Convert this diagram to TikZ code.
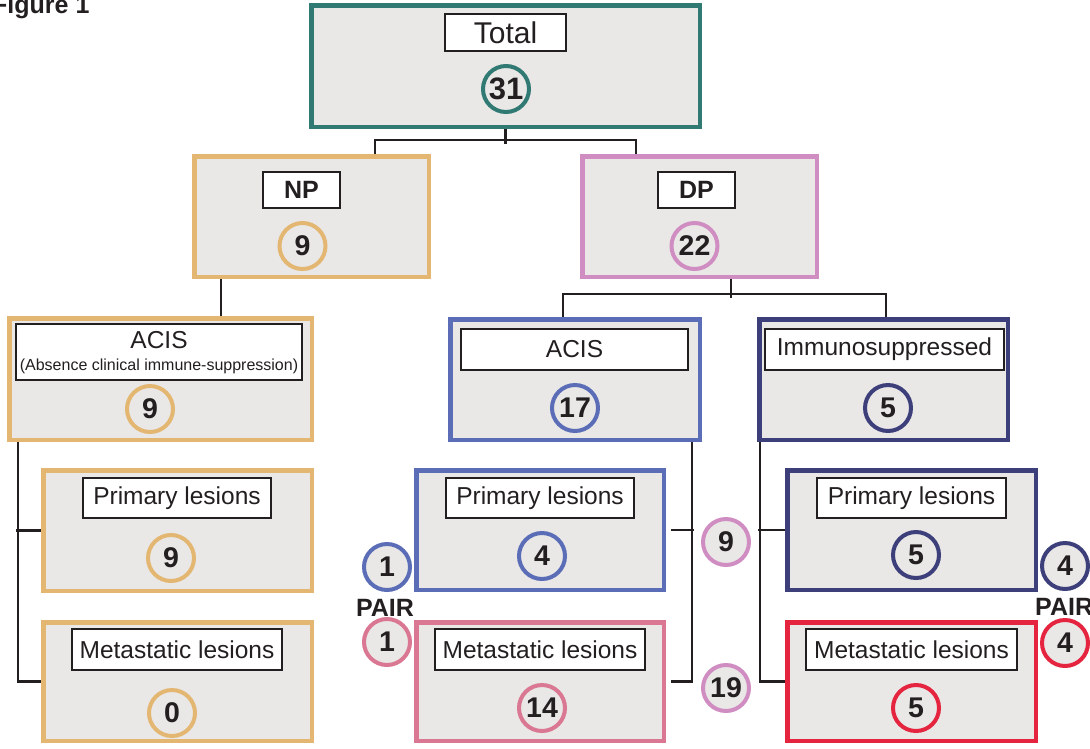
\documentclass[tikz,border=0pt]{standalone}
\usepackage{fontspec}
\setmainfont{Liberation Sans}
\usetikzlibrary{calc,backgrounds}
\definecolor{cTeal}{HTML}{317A73}
\definecolor{cTan}{HTML}{E3B772}
\definecolor{cMauve}{HTML}{D08DC2}
\definecolor{cBlue}{HTML}{5A6DB6}
\definecolor{cNavy}{HTML}{3C3F7A}
\definecolor{cPink}{HTML}{DA7792}
\definecolor{cRed}{HTML}{E5243F}
\definecolor{boxgray}{HTML}{E9E8E7}
\definecolor{linedark}{HTML}{231F20}
\newcommand{\myfs}[1]{\fontsize{#1}{#1}\selectfont}
\tikzset{
  box/.style={draw=#1, line width=4.5pt, fill=boxgray, inner sep=0pt, rectangle},
  lab/.style={draw=linedark, fill=white, line width=1.8pt, inner sep=0pt, rectangle, text=linedark, font=\myfs{24.5}},
  num/.style={circle, draw=#1, line width=4pt, fill=boxgray, minimum size=46pt, inner sep=0pt, text=linedark, font=\bfseries\myfs{28.5}},
  conn/.style={draw=linedark, line width=2.5pt},
  plain/.style={text=linedark, inner sep=0pt}
}
\begin{document}
\begin{tikzpicture}[x=1pt,y=-1pt]
\useasboundingbox (0,0) rectangle (1090,748);

\node[plain, font=\bfseries\myfs{25}, anchor=base west] (fig) at (-8,13) {Figure 1};

% main boxes
\node[box=cTeal,  minimum width=388.5pt, minimum height=121.5pt] (total) at (505.5,66) {};
\node[box=cTan,   minimum width=234.5pt, minimum height=120.5pt] (np) at (311.5,216.5) {};
\node[box=cMauve, minimum width=234.5pt, minimum height=120.5pt] (dp) at (699.5,216.5) {};
\node[box=cTan,   minimum width=302.5pt, minimum height=121.5pt] (acisL) at (160.5,379) {};
\node[box=cBlue,  minimum width=249.5pt, minimum height=120.5pt] (acisM) at (575,379.5) {};
\node[box=cNavy,  minimum width=248.5pt, minimum height=120.5pt] (immuno) at (883.5,379.5) {};
\node[box=cTan,   minimum width=268.5pt, minimum height=120.5pt] (primL) at (177.5,530.5) {};
\node[box=cTan,   minimum width=268.5pt, minimum height=118.5pt] (metL) at (177.5,681.5) {};
\node[box=cBlue,  minimum width=247.5pt, minimum height=119.5pt] (primM) at (540,530) {};
\node[box=cPink,  minimum width=247.5pt, minimum height=118.5pt] (metM) at (540,681.5) {};
\node[box=cNavy,  minimum width=248.5pt, minimum height=119.5pt] (primR) at (911.5,530) {};
\node[box=cRed,   minimum width=248.5pt, minimum height=118.5pt] (metR) at (911.5,681.5) {};

% labels
\node[lab, minimum width=121pt, minimum height=37pt, font=\myfs{30}] (totalL) at (505.5,32.5) {Total};
\node[lab, minimum width=77pt, minimum height=36pt, font=\bfseries\myfs{25}] (npL) at (301.5,190) {NP};
\node[lab, minimum width=77pt, minimum height=36pt, font=\bfseries\myfs{25}] (dpL) at (696.5,190) {DP};
\node[lab, minimum width=286pt, minimum height=56pt] (acisLL) at (159,352) {};
\node[plain, font=\myfs{24.5}] (acisLt) at (159,340) {ACIS};
\node[plain, font=\myfs{16}] (acisLs) at (159,366) {(Absence clinical immune-suppression)};
\node[lab, minimum width=227pt, minimum height=41pt] (acisML) at (574.5,349.5) {ACIS};
\node[lab, minimum width=239pt, minimum height=41pt] (immunoL) at (884.5,349.5) {Immunosuppressed};
\node[lab, minimum width=188pt, minimum height=40pt] (primLL) at (177,498) {Primary lesions};
\node[lab, minimum width=210pt, minimum height=41pt] (metLL) at (177,649.5) {Metastatic lesions};
\node[lab, minimum width=188pt, minimum height=40pt] (primML) at (540,498) {Primary lesions};
\node[lab, minimum width=210pt, minimum height=41pt] (metML) at (540,649.5) {Metastatic lesions};
\node[lab, minimum width=189pt, minimum height=40pt] (primRL) at (911.5,498) {Primary lesions};
\node[lab, minimum width=211pt, minimum height=41pt] (metRL) at (911.5,649.5) {Metastatic lesions};

% count circles
\node[num=cTeal, font=\bfseries\myfs{31}] (c31) at (506,89) {31};
\node[num=cTan]   (cNP) at (302.5,246) {9};
\node[num=cMauve] (cDP) at (694.5,246) {22};
\node[num=cTan]   (cAL) at (150,409) {9};
\node[num=cBlue]  (cAM) at (575,408) {17};
\node[num=cNavy]  (cIM) at (888,408) {5};
\node[num=cTan]   (cPL) at (171,558) {9};
\node[num=cTan]   (cML) at (172,713) {0};
\node[num=cBlue]  (cPM) at (542,556) {4};
\node[num=cPink]  (cMM) at (542,708) {14};
\node[num=cNavy]  (cPR) at (916,555) {5};
\node[num=cRed]   (cMR) at (916,708) {5};
\node[num=cBlue]  (pm1) at (387,567) {1};
\node[num=cPink]  (mm1) at (387,642) {1};
\node[num=cMauve] (s9) at (726,542) {9};
\node[num=cMauve] (s19) at (726,688) {19};
\node[num=cNavy]  (pr4) at (1065,566) {4};
\node[num=cRed]   (mr4) at (1065,643) {4};

\node[plain, font=\bfseries\myfs{25}] (pair1) at (385,608) {PAIR};
\node[plain, font=\bfseries\myfs{25}, anchor=west] (pair2) at (1035,607) {PAIR};

% connectors
\begin{scope}[on background layer]
\draw[conn] (total.south) -- ++(0,15.25);
\draw[conn] ($(np.north)+(63.5,0)$) -- ($(np.north)+(63.5,-14.25)$) -- ($(dp.north)+(-63.5,-14.25)$) -- ($(dp.north)+(-63.5,0)$);
\draw[conn] ($(np.south)+(-90.5,0)$) -- ($(acisL.north)+(60.5,0)$);
\draw[conn] ($(dp.south)+(31.5,0)$) -- ($(dp.south)+(31.5,19.25)$);
\draw[conn] ($(acisM.north)+(-12,0)$) -- ($(acisM.north)+(-12,-23.25)$) -- ($(immuno.north)+(2.5,-23.25)$) -- ($(immuno.north)+(2.5,0)$);
\draw[conn] ($(acisL.south)+(-142.5,0)$) |- (metL.west);
\draw[conn] (primL.west) -- ++(-25.25,0);
\draw[conn] ($(acisM.south)+(117,0)$) |- ($(metM.east)+(5,0)$);
\draw[conn] ($(primM.east)+(5,0)$) -- ++(23.25,0);
\draw[conn] ($(immuno.south)+(-123.5,0)$) |- (metR.west);
\draw[conn] (primR.west) -- ++(-27.25,0);
\end{scope}
\end{tikzpicture}
\end{document}
